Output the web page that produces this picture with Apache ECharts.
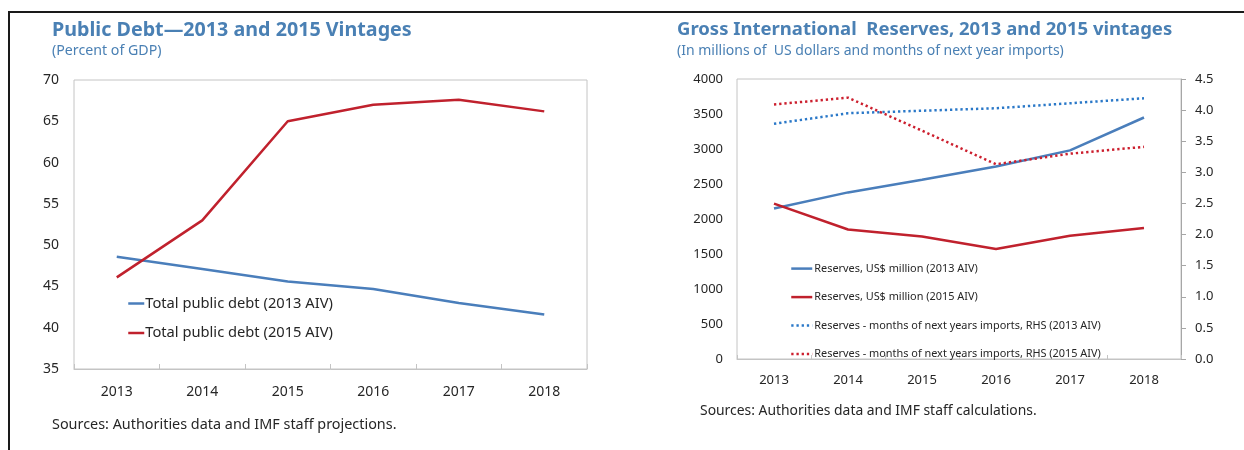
<!DOCTYPE html>
<html>
<head>
<meta charset="utf-8">
<script src="https://cdn.jsdelivr.net/npm/echarts@6/dist/echarts.min.js"></script>
<style>html,body{margin:0;padding:0;background:#fff;}#c{width:1244px;height:450px;}</style>
</head>
<body>
<div id="c"></div>
<script>
// Data
var years = ['2013', '2014', '2015', '2016', '2017', '2018'];
var debt2013 = [48.6, 47.1, 45.6, 44.7, 43.0, 41.6];
var debt2015 = [46.1, 53.0, 65.0, 67.0, 67.6, 66.2];
var res2013 = [2150, 2380, 2560, 2750, 2980, 3450];
var res2015 = [2220, 1850, 1750, 1570, 1760, 1870];
var months2013 = [3.78, 3.95, 3.99, 4.03, 4.11, 4.19];
var months2015 = [4.09, 4.20, 3.67, 3.13, 3.30, 3.41];
var names = ['Total public debt (2013 AIV)', 'Total public debt (2015 AIV)',
  'Reserves, US$ million (2013 AIV)', 'Reserves, US$ million (2015 AIV)',
  'Reserves - months of next years imports, RHS (2013 AIV)',
  'Reserves - months of next years imports, RHS (2015 AIV)'];

var BLUE = '#4a7ebb', RED = '#c0212d', DBLUE = '#2a78c8', DRED = '#cc1f2e';
var TITLE = '#4a80b4', TXT = '#262626', BORDER = '#c4c4c4';
var F = '"Noto Sans", "Open Sans", sans-serif';
var DOT = [2.3, 2.9];

var chart = echarts.init(document.getElementById('c'));
chart.setOption({
  animation: false,
  textStyle: { fontFamily: F },
  title: [
    { text: 'Public Debt\u20142013 and 2015 Vintages', left: 52, top: 20, padding: 0,
      textStyle: { color: TITLE, fontSize: 19.7, fontWeight: 'bold', fontFamily: F } },
    { text: '(Percent of GDP)', left: 52, top: 44, padding: 0,
      textStyle: { color: TITLE, fontSize: 14.2, fontWeight: 'normal', fontFamily: F } },
    { text: 'Gross International  Reserves, 2013 and 2015 vintages', left: 677, top: 20, padding: 0,
      textStyle: { color: TITLE, fontSize: 18.5, fontWeight: 'bold', fontFamily: F } },
    { text: '(In millions of  US dollars and months of next year imports)', left: 677, top: 44, padding: 0,
      textStyle: { color: TITLE, fontSize: 14, fontWeight: 'normal', fontFamily: F } },
    { text: 'Sources: Authorities data and IMF staff projections.', left: 52, top: 418, padding: 0,
      textStyle: { color: TXT, fontSize: 14.4, fontWeight: 'normal', fontFamily: F } },
    { text: 'Sources: Authorities data and IMF staff calculations.', left: 700, top: 404, padding: 0,
      textStyle: { color: TXT, fontSize: 13.9, fontWeight: 'normal', fontFamily: F } }
  ],
  graphic: [
    { type: 'line', shape: { x1: 8, y1: 12, x2: 1244, y2: 12 }, style: { stroke: '#1a1a1a', lineWidth: 2 } },
    { type: 'line', shape: { x1: 9, y1: 12, x2: 9, y2: 450 }, style: { stroke: '#1a1a1a', lineWidth: 2 } }
  ],
  legend: [
    { data: [
        { name: names[0], lineStyle: { width: 2.5 } },
        { name: names[1], lineStyle: { width: 2.5 } }
      ],
      orient: 'vertical', left: 127, top: 296, itemGap: 14.5,
      itemWidth: 16, itemHeight: 14, padding: 0,
      itemStyle: { opacity: 0 },
      textStyle: { fontSize: 14.7, color: TXT, fontFamily: F, padding: [0, 0, 0, -4] } },
    { data: [
        { name: names[2], lineStyle: { width: 2.5 } },
        { name: names[3], lineStyle: { width: 2.5 } },
        { name: names[4], lineStyle: { width: 2.5, type: DOT } },
        { name: names[5], lineStyle: { width: 2.5, type: DOT } }
      ],
      orient: 'vertical', left: 790, top: 263, itemGap: 17.3,
      itemWidth: 21, itemHeight: 14, padding: 0,
      itemStyle: { opacity: 0 },
      textStyle: { fontSize: 10.9, color: TXT, fontFamily: F, padding: [0, 0, 0, -3] } }
  ],
  grid: [
    { left: 74, top: 80, width: 513, height: 289, show: true, borderColor: BORDER, borderWidth: 1 },
    { left: 737, top: 79, width: 444, height: 280, show: true, borderColor: BORDER, borderWidth: 1 }
  ],
  xAxis: [
    { type: 'category', gridIndex: 0, data: years, boundaryGap: true,
      axisLine: { show: true, lineStyle: { color: BORDER } },
      axisTick: { show: true, inside: true, length: 5, lineStyle: { color: BORDER } },
      axisLabel: { color: TXT, fontSize: 14, margin: 16 } },
    { type: 'category', gridIndex: 1, data: years, boundaryGap: true,
      axisLine: { show: true, lineStyle: { color: BORDER } },
      axisTick: { show: true, inside: true, length: 4, lineStyle: { color: BORDER } },
      axisLabel: { color: TXT, fontSize: 13, margin: 15 } }
  ],
  yAxis: [
    { type: 'value', gridIndex: 0, min: 35, max: 70, interval: 5,
      axisLine: { show: false }, axisTick: { show: false }, splitLine: { show: false },
      axisLabel: { color: TXT, fontSize: 14, margin: 15 } },
    { type: 'value', gridIndex: 1, min: 0, max: 4000, interval: 500,
      axisLine: { show: false }, axisTick: { show: false }, splitLine: { show: false },
      axisLabel: { color: TXT, fontSize: 13, margin: 14, formatter: function (v) { return String(v); } } },
    { type: 'value', gridIndex: 1, position: 'right', min: 0, max: 4.5, interval: 0.5,
      axisLine: { show: true, lineStyle: { color: '#a6a6a6' } },
      axisTick: { show: true, length: 5, lineStyle: { color: '#a6a6a6' } },
      splitLine: { show: false },
      axisLabel: { color: TXT, fontSize: 13, margin: 14, formatter: function (v) { return v.toFixed(1); } } }
  ],
  series: [
    { name: names[0], type: 'line', xAxisIndex: 0, yAxisIndex: 0, data: debt2013, symbol: 'none',
      itemStyle: { color: BLUE }, lineStyle: { color: BLUE, width: 2.5 } },
    { name: names[1], type: 'line', xAxisIndex: 0, yAxisIndex: 0, data: debt2015, symbol: 'none',
      itemStyle: { color: RED }, lineStyle: { color: RED, width: 2.5 } },
    { name: names[2], type: 'line', xAxisIndex: 1, yAxisIndex: 1, data: res2013, symbol: 'none',
      itemStyle: { color: BLUE }, lineStyle: { color: BLUE, width: 2.5 } },
    { name: names[3], type: 'line', xAxisIndex: 1, yAxisIndex: 1, data: res2015, symbol: 'none',
      itemStyle: { color: RED }, lineStyle: { color: RED, width: 2.5 } },
    { name: names[4], type: 'line', xAxisIndex: 1, yAxisIndex: 2, data: months2013, symbol: 'none',
      itemStyle: { color: DBLUE }, lineStyle: { color: DBLUE, width: 2.5, type: DOT } },
    { name: names[5], type: 'line', xAxisIndex: 1, yAxisIndex: 2, data: months2015, symbol: 'none',
      itemStyle: { color: DRED }, lineStyle: { color: DRED, width: 2.5, type: DOT } }
  ]
});
</script>
</body>
</html>
